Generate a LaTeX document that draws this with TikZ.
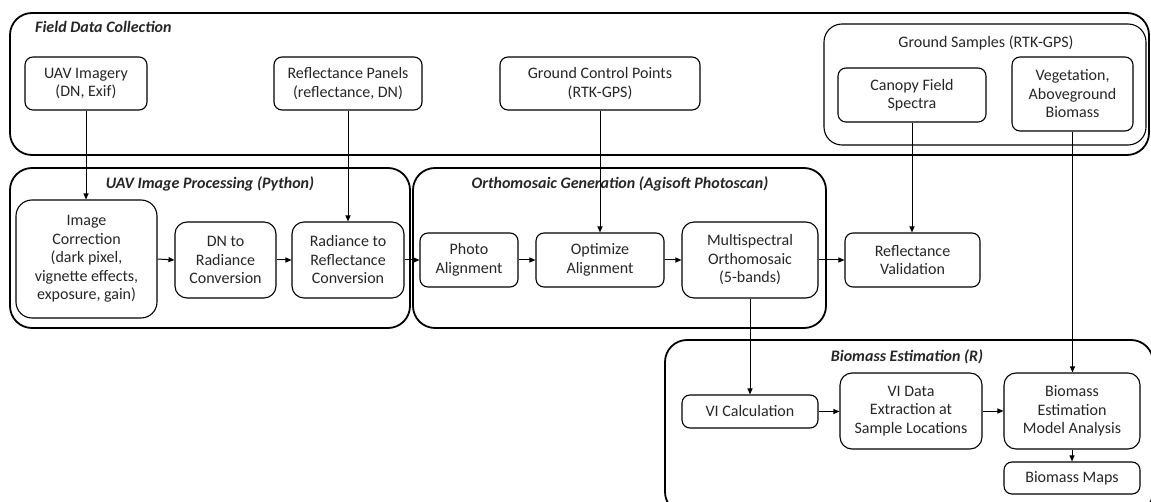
\documentclass[tikz,border=0pt]{standalone}
\usepackage{fontspec}
\setmainfont{Carlito}
\usetikzlibrary{arrows.meta}
\definecolor{txt}{RGB}{38,38,38}
\tikzset{
  x=1pt, y=-1pt,
  box/.style={draw, line width=1.1pt, rounded corners=8pt, align=center, inner sep=0pt,
    text=txt, font=\fontsize{16}{18.5}\selectfont},
  cont/.style={draw, line width=1.8pt, rounded corners=22pt, inner sep=0pt},
  title/.style={font=\fontsize{16}{18}\selectfont\bfseries\itshape, inner sep=0pt, text=txt},
  conn/.style={line width=1pt, -{Triangle[length=6pt,width=5pt]}},
}
\begin{document}
\begin{tikzpicture}
\useasboundingbox (0,0) rectangle (1151,502);
% containers
\node[cont, minimum width=1139pt, minimum height=142pt] (field) at (579.5,84) {};
\node[cont, minimum width=400pt, minimum height=160pt] (uavproc) at (210,248) {};
\node[cont, minimum width=413pt, minimum height=160pt] (ortho) at (619.5,248) {};
\node[cont, minimum width=488pt, minimum height=174pt] (bioest) at (909,427) {};
\node[box, line width=1.1pt, rounded corners=18pt, minimum width=322pt, minimum height=121pt] (gs) at (985,84.5) {};
% titles
\node[title, anchor=west] (t1) at (35,27) {Field Data Collection};
\node[title] (t2) at (210,184) {UAV Image Processing (Python)};
\node[title] (t3) at (620,184) {Orthomosaic Generation (Agisoft Photoscan)};
\node[title] (t4) at (907,357) {Biomass Estimation (R)};
\node[font=\fontsize{16}{18}\selectfont, inner sep=0pt, text=txt] (t5) at (986,43) {Ground Samples (RTK-GPS)};
% field boxes
\node[box, minimum width=122pt, minimum height=53pt] (uav) at (86,83.5) {UAV Imagery\\(DN, Exif)};
\node[box, minimum width=148pt, minimum height=53pt] (panels) at (348,83.5) {Reflectance Panels\\(reflectance, DN)};
\node[box, minimum width=200pt, minimum height=53pt] (gcp) at (600,83.5) {Ground Control Points\\(RTK-GPS)};
\node[box, minimum width=148pt, minimum height=54pt] (canopy) at (912,95) {Canopy Field\\Spectra};
\node[box, minimum width=121pt, minimum height=74pt] (veg) at (1072.5,94) {Vegetation,\\Aboveground\\Biomass};
% uav processing
\node[box, rounded corners=16pt, minimum width=141pt, minimum height=118pt] (imgcorr) at (86.5,259) {Image\\Correction\\(dark pixel,\\vignette effects,\\exposure, gain)};
\node[box, rounded corners=12pt, minimum width=101pt, minimum height=76pt] (dn) at (225.5,260) {DN to\\Radiance\\Conversion};
\node[box, rounded corners=12pt, minimum width=112pt, minimum height=76pt] (rad) at (348,260) {Radiance to\\Reflectance\\Conversion};
% ortho
\node[box, minimum width=98pt, minimum height=54pt] (photo) at (469,260) {Photo\\Alignment};
\node[box, minimum width=128pt, minimum height=54pt] (opt) at (600,260) {Optimize\\Alignment};
\node[box, rounded corners=12pt, minimum width=136pt, minimum height=76pt] (multi) at (750,260) {Multispectral\\Orthomosaic\\(5-bands)};
\node[box, minimum width=135pt, minimum height=54pt] (refval) at (912.5,260) {Reflectance\\Validation};
% biomass
\node[box, minimum width=136pt, minimum height=33pt] (vicalc) at (750,411.5) {VI Calculation};
\node[box, rounded corners=12pt, minimum width=142pt, minimum height=76pt] (vidata) at (911,411) {VI Data\\Extraction at\\Sample Locations};
\node[box, rounded corners=12pt, minimum width=136pt, minimum height=76pt] (biomod) at (1072,411) {Biomass\\Estimation\\Model Analysis};
\node[box, minimum width=136pt, minimum height=32pt] (maps) at (1072,478) {Biomass Maps};
% connectors
\draw[conn] (uav.south) -- (uav.south |- imgcorr.north);
\draw[conn] (panels.south) -- (panels.south |- rad.north);
\draw[conn] (gcp.south) -- (gcp.south |- opt.north);
\draw[conn] (canopy.south) -- (canopy.south |- refval.north);
\draw[conn] (veg.south) -- (veg.south |- biomod.north);
\draw[conn] (multi.south) -- (multi.south |- vicalc.north);
\draw[conn] (imgcorr.east) -- (dn.west);
\draw[conn] (dn.east) -- (rad.west);
\draw[conn] (rad.east) -- (photo.west);
\draw[conn] (photo.east) -- (opt.west);
\draw[conn] (opt.east) -- (multi.west);
\draw[conn] (multi.east) -- (refval.west);
\draw[conn] (vicalc.east) -- (vidata.west |- vicalc.east);
\draw[conn] (vidata.east) -- (biomod.west);
\draw[conn] (biomod.south) -- (maps.north);
\end{tikzpicture}
\end{document}
